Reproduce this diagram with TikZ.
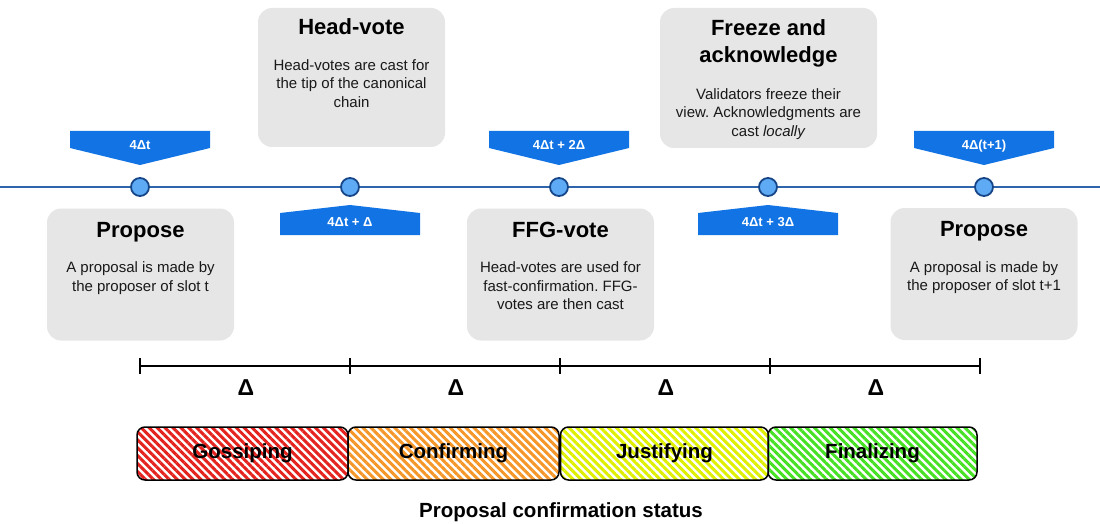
\documentclass[tikz,border=0pt]{standalone}
\usepackage{fontspec}
\setmainfont{Liberation Sans}
\frenchspacing
\usetikzlibrary{positioning, patterns.meta}
\definecolor{lineblue}{RGB}{45,100,172}
\definecolor{markblue}{RGB}{18,116,228}
\definecolor{dotblue}{RGB}{94,170,245}
\definecolor{dotedge}{RGB}{22,70,135}
\definecolor{boxgrey}{RGB}{230,230,230}
\definecolor{hatchred}{RGB}{228,35,30}
\definecolor{hatchorange}{RGB}{245,150,40}
\definecolor{hatchyellow}{RGB}{222,240,0}
\definecolor{hatchgreen}{RGB}{70,225,35}

\tikzset{
  slotdot/.style={circle, draw=dotedge, fill=dotblue, line width=1.8pt, minimum size=18pt, inner sep=0pt},
  marklabel/.style={text=white, font=\bfseries\fontsize{13}{15}\selectfont, inner sep=0pt, anchor=base},
  card/.style={fill=boxgrey, rounded corners=14pt, minimum width=187pt, minimum height=132pt, inner sep=0pt},
  cardhead/.style={font=\bfseries\fontsize{22}{27}\selectfont, align=center, inner sep=0pt, execute at end node=\strut},
  cardtext/.style={font=\fontsize{15}{18.5}\selectfont, align=center, inner sep=0pt, text=black!90},
  status/.style={draw=black, line width=1.5pt, rounded corners=8pt, minimum height=53pt, inner sep=0pt,
    font=\bfseries\fontsize{20.5}{24}\selectfont},
  hatch/.style={pattern={Lines[angle=-45, distance=5.6pt, line width=3pt]}, pattern color=#1},
  deltalab/.style={font=\bfseries\fontsize{23}{25}\selectfont, inner sep=0pt},
}

\begin{document}
\begin{tikzpicture}[x=1pt, y=-1pt]
    \useasboundingbox (0,0) rectangle (1100,524);

    % Timeline
    \draw[lineblue, line width=1.8pt] (0,187) -- (1100,187);
    \foreach \x [count=\i from 0] in {140,350,559,768,984}
        \node[slotdot] (t\i) at (\x,187) {};

    % Markers above the line
    \foreach \x/\lab/\n in {140/4Δt/0, 559/4Δt + 2Δ/2, 984/4Δ(t+1)/4} {
        \fill[markblue] (\x-70,131) -- (\x+70,131) -- (\x+70,148) -- (\x,165) -- (\x-70,148) -- cycle;
        \node[marklabel] (m\n) at (\x,149.5) {\lab};
    }
    % Markers below the line
    \foreach \x/\lab/\n in {350/4Δt + Δ/1, 768/4Δt + 3Δ/3} {
        \fill[markblue] (\x,205) -- (\x+70,213) -- (\x+70,235) -- (\x-70,235) -- (\x-70,213) -- cycle;
        \node[marklabel] (m\n) at (\x,226.5) {\lab};
    }

    % Cards
    \node[card] (prop1) at (140.5,274.5) {};
    \node[cardhead, below=10pt of prop1.north] (prop1h) {Propose};
    \node[cardtext, below=16pt of prop1h] {A proposal is made by\\the proposer of slot t};

    \node[card, minimum height=139pt] (headv) at (351.5,77.5) {};
    \node[cardhead, below=8pt of headv.north] (headvh) {Head-vote};
    \node[cardtext, below=16pt of headvh] {Head-votes are cast for\\the tip of the canonical\\chain};

    \node[card] (ffg) at (560.5,274.5) {};
    \node[cardhead, below=10pt of ffg.north] (ffgh) {FFG-vote};
    \node[cardtext, below=16pt of ffgh] {Head-votes are used for\\fast-confirmation. FFG-\\votes are then cast};

    \node[card, minimum width=217pt, minimum height=140pt] (freeze) at (768.5,78) {};
    \node[cardhead, below=12pt of freeze.north] (freezeh) {Freeze and\\acknowledge};
    \node[cardtext, below=17pt of freezeh] {Validators freeze their\\view. Acknowledgments are\\cast \textit{locally}};

    \node[card] (prop2) at (984,274) {};
    \node[cardhead, below=10pt of prop2.north] (prop2h) {Propose};
    \node[cardtext, below=16pt of prop2h] {A proposal is made by\\the proposer of slot t+1};

    % Delta scale
    \foreach \x [count=\i from 0] in {140,350,560,770,980}
        \coordinate (s\i) at (\x,366);
    \foreach \i in {0,...,4}
        \draw[line width=2.4pt] ([yshift=8pt]s\i) -- ([yshift=-8pt]s\i);
    \foreach \i [evaluate=\i as \j using int(\i+1)] in {0,...,3}
        \draw[line width=2.4pt] (s\i) -- node[deltalab, below=12pt, xshift=1pt] (d\i) {Δ} (s\j);

    % Confirmation status
    \node[status, hatch=hatchred, minimum width=211pt] (gossip) at (242.5,453.5) {Gossiping};
    \node[status, hatch=hatchorange, minimum width=211pt] (confirm) at (453.5,453.5) {Confirming};
    \node[status, hatch=hatchyellow, minimum width=208pt] (justify) at (664.5,453.5) {Justifying};
    \node[status, hatch=hatchgreen, minimum width=209pt] (final) at (872.5,453.5) {Finalizing};

    \node[font=\bfseries\fontsize{20.5}{24}\selectfont, anchor=base] (caption) at (561,517.5) {Proposal confirmation status};
\end{tikzpicture}
\end{document}
